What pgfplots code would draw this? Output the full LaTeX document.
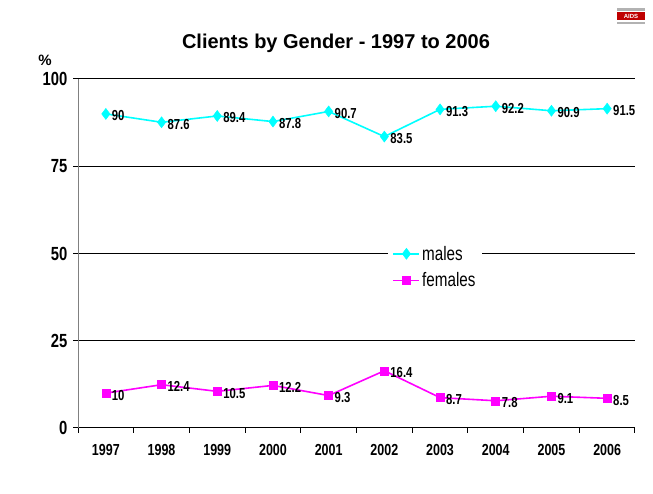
\documentclass[border=0pt]{standalone}
\usepackage{pgfplots}
\pgfplotsset{compat=1.18}
\usepackage{fontspec}
\setmainfont{Liberation Sans}
\newfontfamily\narrow[FakeStretch=0.78]{Liberation Sans}
\definecolor{cy}{RGB}{0,255,255}
\definecolor{mg}{RGB}{255,0,255}
\begin{document}
\begin{tikzpicture}
\path[use as bounding box] (0pt,0pt) rectangle (653pt,494pt);
\node[font=\bfseries\fontsize{20}{20}\selectfont] at (336pt,451pt) {Clients by Gender - 1997 to 2006};
\node[font=\bfseries\fontsize{15}{15}\selectfont] at (45pt,434pt) {\%};
\fill[red!75!black] (617pt,474pt) rectangle (645pt,482pt);
\node[font=\bfseries\fontsize{6}{6}\selectfont, text=white, inner sep=0pt] at (631pt,478pt) {AIDS};
\fill[gray!60] (617pt,483pt) rectangle (645pt,486pt);
\fill[gray!60] (617pt,470pt) rectangle (645pt,472pt);
\begin{axis}[at={(78pt,66pt)}, anchor=south west, width=557pt, height=349pt, scale only axis,
  xmin=-0.5, xmax=9.5, ymin=0, ymax=100,
  axis x line=bottom, axis y line=left,
  x axis line style={-, black, line width=1pt},
  y axis line style={-, gray, line width=1pt},
  ytick={0,25,50,75,100}, ymajorgrids, grid style={black, line width=1pt},
  xtick={0,...,9},
  xticklabels={1997,1998,1999,2000,2001,2002,2003,2004,2005,2006},
  major x tick style={draw=none},
  minor xtick={-0.5,0.5,1.5,2.5,3.5,4.5,5.5,6.5,7.5,8.5,9.5},
  minor x tick style={black, line width=1pt},
  minor tick length=5pt,
  major tick length=5pt,
  y tick style={black, line width=1pt},
  tick align=outside,
  /pgf/number format/assume math mode=true,
  yticklabel style={font=\narrow\bfseries\fontsize{19}{19}\selectfont, xshift=-2pt},
  xticklabel style={font=\narrow\bfseries\fontsize{16}{16}\selectfont, yshift=-8pt},
  nodes near coords,
  nodes near coords style={font=\narrow\bfseries\fontsize{14.5}{14.5}\selectfont, anchor=west, xshift=2.5pt, yshift=-2pt, text=black},
  legend style={at={(0.641,0.461)}, anchor=center, draw=none, fill=white, font=\narrow\fontsize{19.5}{19.5}\selectfont, row sep=7pt, inner xsep=5pt},
  legend cell align=left,
  legend image code/.code={\draw[#1] (0pt,0pt) -- (26pt,0pt); \draw[#1, mark repeat=2, mark phase=2] plot coordinates {(0pt,0pt) (13pt,0pt) (26pt,0pt)};},
  clip=false,
]
\addplot[cy, line width=1.6pt, mark=diamond*, mark size=5.5pt, mark options={fill=cy, draw=cy, line width=0.5pt}] coordinates {
(0,90) (1,87.6) (2,89.4) (3,87.8) (4,90.7) (5,83.5) (6,91.3) (7,92.2) (8,90.9) (9,91.5)};
\addlegendentry{males}
\addplot[mg, line width=1.6pt, mark=square*, mark size=4pt, mark options={fill=mg, draw=mg, line width=0.5pt}] coordinates {
(0,10) (1,12.4) (2,10.5) (3,12.2) (4,9.3) (5,16.4) (6,8.7) (7,7.8) (8,9.1) (9,8.5)};
\addlegendentry{females}
\end{axis}
\end{tikzpicture}
\end{document}
